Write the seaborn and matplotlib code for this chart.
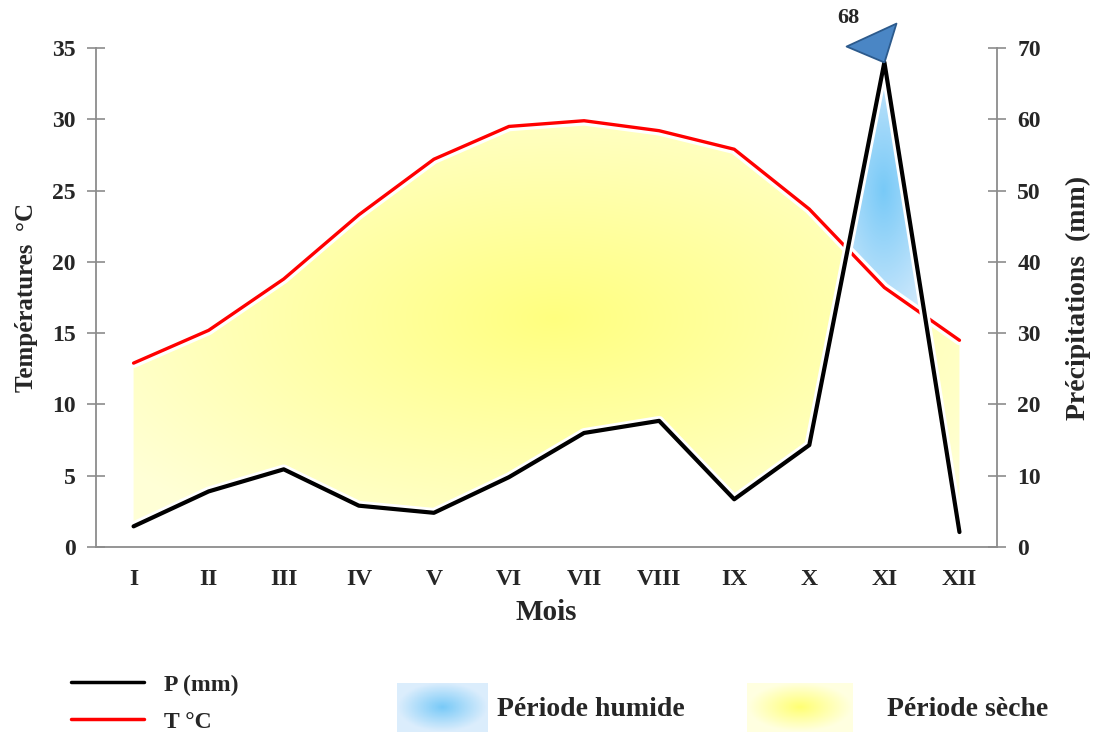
import numpy as np
import matplotlib.pyplot as plt
import matplotlib.path as mpath
from matplotlib.lines import Line2D
import pandas as pd
import seaborn as sns

mois = ['I', 'II', 'III', 'IV', 'V', 'VI', 'VII', 'VIII', 'IX', 'X', 'XI', 'XII']
temperature = [12.9, 15.2, 18.8, 23.3, 27.2, 29.5, 29.9, 29.2, 27.9, 23.7, 18.2, 14.5]
precipitation = [2.9, 7.8, 10.9, 5.8, 4.8, 9.8, 16.0, 17.7, 6.7, 14.3, 68.0, 2.1]

sns.set_style('white')
plt.rcParams['font.family'] = ['Liberation Serif', 'DejaVu Serif']

df = pd.DataFrame({'mois': mois, 'x': np.arange(len(mois)),
                   'T': temperature, 'P': precipitation})
# P = 2T (Gaussen)
df['P2'] = df['P'] / 2

gris = '#8c8c8c'

fig = plt.figure(figsize=(10.95, 7.32), dpi=100)
ax = fig.add_axes([0.0877, 0.2527, 0.8228, 0.6817])
ax2 = ax.twinx()


def degrade(coll, centre, c_in, c_out, rayon):
    # remplissage en degrade radial, decoupe selon la zone
    path = mpath.Path.make_compound_path(*coll.get_paths())
    xs = np.linspace(-0.5, 11.5, 480)
    ys = np.linspace(0, 35, 350)
    X, Y = np.meshgrid(xs, ys)
    d = np.sqrt(((X - centre[0]) / rayon[0]) ** 2 + ((Y - centre[1]) / rayon[1]) ** 2)
    d = np.clip(d, 0, 1)[..., None]
    img = np.array(c_in) * (1 - d) + np.array(c_out) * d
    im = ax.imshow(img, extent=(-0.5, 11.5, 0, 35), origin='lower',
                   aspect='auto', zorder=1, interpolation='bilinear')
    im.set_clip_path(path, transform=ax.transData)
    coll.remove()


x = df['x'].to_numpy(float)
t = df['T'].to_numpy()
p2 = df['P2'].to_numpy()

sec = ax.fill_between(x, p2, t, where=t >= p2, interpolate=True, lw=0)
degrade(sec, (5.6, 16), (1, 1, 0.5), (1, 1, 0.84), (7.0, 18))
hum = ax.fill_between(x, t, p2, where=p2 >= t, interpolate=True, lw=0)
degrade(hum, (10.0, 25), (0.47, 0.79, 0.97), (0.86, 0.93, 0.99), (0.9, 11))

# courbes
sns.lineplot(data=df, x='x', y='T', ax=ax, color='white', lw=7, zorder=2)
sns.lineplot(data=df, x='x', y='T', ax=ax, color='#ff0000', lw=2.4, zorder=3)
sns.lineplot(data=df, x='x', y='P', ax=ax2, color='white', lw=7, zorder=2)
sns.lineplot(data=df, x='x', y='P', ax=ax2, color='black', lw=3, zorder=3)

pic = df.nlargest(1, 'P')
fleche = [(0, 0), (-38, 16), (12, 39), (0, 0)]
sns.scatterplot(data=pic, x='x', y='P', ax=ax2, marker=fleche, s=56 ** 2,
                color='#4a86c5', edgecolor='#2c5a8c', linewidth=1.3, zorder=4,
                clip_on=False)
ax2.annotate(f"{pic['P'].iloc[0]:.0f}", xy=(pic['x'].iloc[0], pic['P'].iloc[0]),
             xytext=(-26, 32), textcoords='offset points', ha='center', va='center',
             fontsize=16, fontweight='bold', annotation_clip=False)

# axes
ax.set_xlim(-0.5, 11.5)
ax.set_ylim(0, 35)
ax2.set_ylim(0, 70)
ax.set_yticks(np.arange(0, 36, 5))
ax2.set_yticks(np.arange(0, 71, 10))
ax.set_xticks(df['x'])
ax.set_xticklabels(df['mois'])
ax.set_xticks(np.arange(-0.5, 12, 1), minor=True)

for a in (ax, ax2):
    for s in a.spines.values():
        s.set_color(gris)
        s.set_linewidth(1.3)
    a.spines['top'].set_visible(False)
ax.spines['right'].set_visible(False)
ax2.spines['left'].set_visible(False)
ax2.spines['bottom'].set_visible(False)

ax.tick_params(axis='y', direction='inout', length=13, width=1.2, color=gris,
               labelsize=17, pad=8)
ax2.tick_params(axis='y', direction='inout', length=13, width=1.2, color=gris,
                labelsize=17, pad=8)
ax.tick_params(axis='x', which='major', length=0, labelsize=17, pad=16)
ax.tick_params(axis='x', which='minor', direction='inout', length=14, width=1.2,
               color=gris)
for lab in ax.get_xticklabels() + ax.get_yticklabels() + ax2.get_yticklabels():
    lab.set_fontweight('bold')

ax.set_xlabel('Mois', fontsize=21, fontweight='bold', labelpad=6)
ax.set_ylabel('Températures  °C', fontsize=18, fontweight='bold', labelpad=10)
ax2.set_ylabel('Précipitations  (mm)', fontsize=20, fontweight='bold', labelpad=18)

# legende
poignees = [Line2D([], [], color='black', lw=2.5), Line2D([], [], color='#ff0000', lw=2.5)]
fig.legend(poignees, ['P (mm)', 'T °C'], loc='upper left',
           bbox_to_anchor=(0.065, 0.079), frameon=False, borderpad=0,
           borderaxespad=0, handlelength=3.1, handletextpad=0.85, labelspacing=0.65,
           prop={'weight': 'bold', 'size': 17})

for x0, larg, c_in, c_out, texte, xt in [
        (397, 91, (0.47, 0.79, 0.97), (0.86, 0.93, 0.99), 'Période humide', 497),
        (747, 106, (1, 1, 0.45), (1, 1, 0.88), 'Période sèche', 887)]:
    bx = fig.add_axes([x0 / 1095, 0, larg / 1095, 49 / 732])
    gx, gy = np.meshgrid(np.linspace(-1, 1, 60), np.linspace(-1, 1, 40))
    d = np.clip(np.sqrt(gx ** 2 + gy ** 2), 0, 1)[..., None]
    bx.imshow(np.array(c_in) * (1 - d) + np.array(c_out) * d, aspect='auto')
    bx.axis('off')
    fig.text(xt / 1095, 1 - 710 / 732, texte, fontsize=20, fontweight='bold',
             va='center', ha='left')

fig.savefig('out.png', dpi=100)
